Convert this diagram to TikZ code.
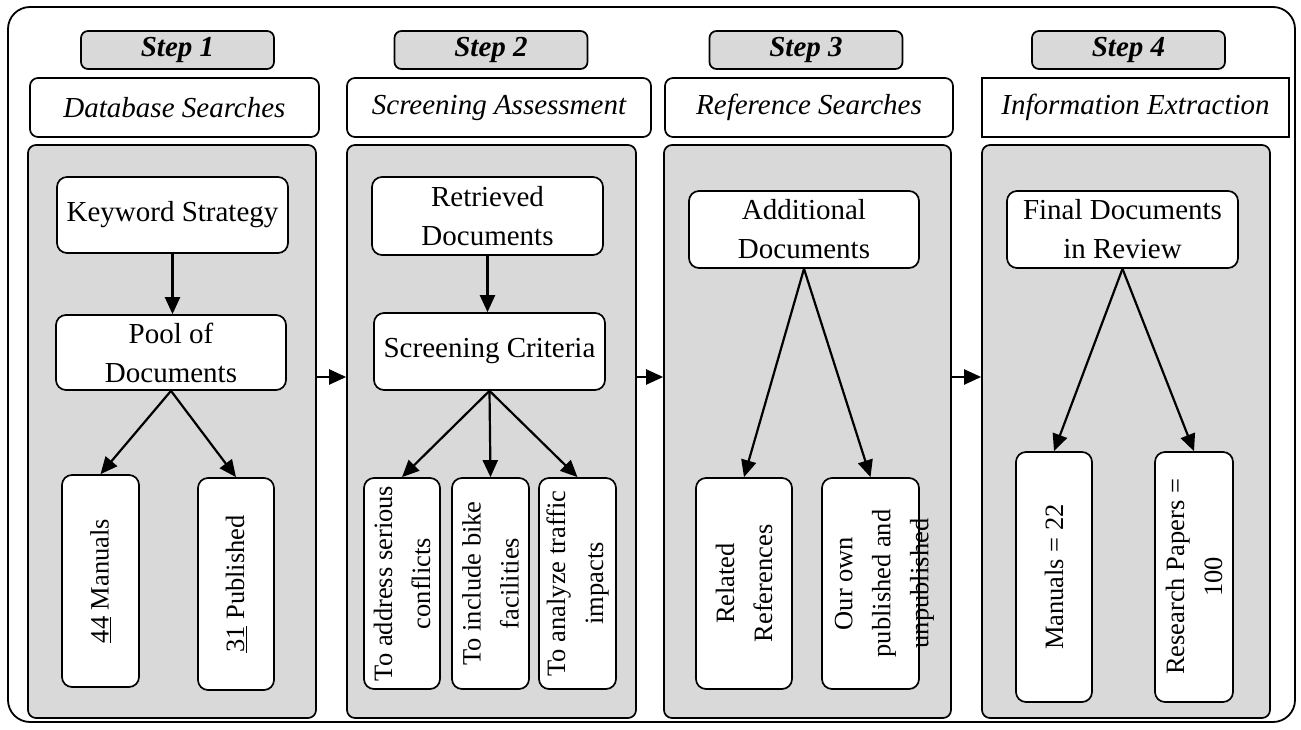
\documentclass[tikz,border=0pt]{standalone}
\usepackage{fontspec}
\setmainfont{Liberation Serif}
\usetikzlibrary{arrows.meta}

\tikzset{
    stepbox/.style={draw, line width=1.7pt, fill=black!15, rounded corners=7pt, minimum width=193pt, minimum height=38pt, inner sep=0pt, font=\fontsize{29}{35}\selectfont\bfseries\itshape},
    hdrbox/.style={draw, line width=1.7pt, fill=white, rounded corners=8pt, minimum height=59pt, inner sep=0pt, font=\fontsize{29}{39}\selectfont\itshape},
    panel/.style={draw, line width=1.7pt, fill=black!15, rounded corners=8pt, minimum height=573pt, inner sep=0pt},
    ibox/.style={draw, line width=1.7pt, fill=white, rounded corners=10pt, inner sep=0pt, align=center, font=\fontsize{29}{39}\selectfont},
    vtext/.style={rotate=90, align=center, inner sep=0pt, font=\fontsize{26.5}{38}\selectfont},
    arr/.style={line width=2.2pt, -{Triangle[length=17pt,width=15pt]}}
}

\begin{document}
\begin{tikzpicture}[x=1pt,y=-1pt]
    \useasboundingbox (0,0) rectangle (1301,730);

    % Marco exterior
    \draw[line width=1.8pt, rounded corners=22pt] (8,7) rectangle (1295,722);

    % Pasos
    \node[stepbox] (s1) at (177.5,50) {Step 1};
    \node[stepbox] (s2) at (491,50) {Step 2};
    \node[stepbox] (s3) at (806,50) {Step 3};
    \node[stepbox] (s4) at (1128.5,50) {Step 4};

    % Titulos de cada paso
    \node[hdrbox, minimum width=289pt] (h1) at (174.5,107.5) {Database Searches};
    \node[hdrbox, minimum width=304pt] (h2) at (499,107.5) {Screening Assessment};
    \node[hdrbox, minimum width=288pt] (h3) at (809,107.5) {Reference Searches};
    \node[hdrbox, minimum width=307pt, sharp corners] (h4) at (1135.5,107.5) {Information Extraction};

    % Paneles grises
    \node[panel, minimum width=288pt] (p1) at (172,431.5) {};
    \node[panel, minimum width=289pt] (p2) at (491.5,431.5) {};
    \node[panel, minimum width=287pt] (p3) at (807.5,431.5) {};
    \node[panel, minimum width=288pt] (p4) at (1126,431.5) {};

    % Flechas entre paneles
    \draw[arr] ([yshift=54.5pt]p1.east) -- ([yshift=54.5pt]p2.west);
    \draw[arr] ([yshift=54.5pt]p2.east) -- ([yshift=54.5pt]p3.west);
    \draw[arr] ([yshift=54.5pt]p3.east) -- ([yshift=54.5pt]p4.west);

    % Paso 1
    \node[ibox, minimum width=231pt, minimum height=76pt] (kw) at (172.5,215) {Keyword Strategy};
    \node[ibox, minimum width=230pt, minimum height=75pt] (pool) at (171,352.5) {Pool of\\Documents};
    \node[ibox, minimum width=77pt, minimum height=212pt] (m44) at (100.5,581) {};
    \node[ibox, minimum width=76pt, minimum height=212pt] (p31) at (236,584) {};
    \node[vtext] (t44) at (m44) {\underline{44} Manuals};
    \node[vtext] (t31) at (p31) {\underline{31} Published};
    \draw[arr] (kw.south) -- (kw.south |- pool.north);
    \draw[arr] (pool.south) -- (m44.north);
    \draw[arr] (pool.south) -- (p31.north);

    % Paso 2
    \node[ibox, minimum width=231pt, minimum height=78pt] (ret) at (487.5,216) {Retrieved\\Documents};
    \node[ibox, minimum width=231pt, minimum height=77pt] (crit) at (489.5,351.5) {Screening Criteria};
    \node[ibox, minimum width=76pt, minimum height=211pt] (c1) at (402,583.5) {};
    \node[ibox, minimum width=77pt, minimum height=211pt] (c2) at (490.5,583.5) {};
    \node[ibox, minimum width=77pt, minimum height=211pt] (c3) at (577.5,583.5) {};
    \node[vtext] (tc1) at (c1) {To address serious\\conflicts};
    \node[vtext] (tc2) at (c2) {To include bike\\facilities};
    \node[vtext] (tc3) at (c3) {To analyze traffic\\impacts};
    \draw[arr] (ret.south) -- (ret.south |- crit.north);
    \draw[arr] (crit.south) -- (c1.north);
    \draw[arr] (crit.south) -- (c2.north);
    \draw[arr] (crit.south) -- (c3.north);

    % Paso 3
    \node[ibox, minimum width=230pt, minimum height=77pt] (add) at (804,229.5) {Additional\\Documents};
    \node[ibox, minimum width=96pt, minimum height=211pt] (rel) at (744,583.5) {};
    \node[ibox, minimum width=97pt, minimum height=211pt] (own) at (870.5,583.5) {};
    \node[vtext] (trel) at (rel) {Related\\References};
    \node[vtext] (town) at ([xshift=14pt]own.center) {Our own\\published and\\unpublished};
    \draw[arr] (add.south) -- (rel.north);
    \draw[arr] (add.south) -- (own.north);

    % Paso 4
    \node[ibox, minimum width=231pt, minimum height=77pt] (fin) at (1122.5,229.5) {Final Documents\\in Review};
    \node[ibox, minimum width=76pt, minimum height=250pt] (m22) at (1054,577) {};
    \node[ibox, minimum width=78pt, minimum height=250pt] (rp) at (1194,577) {};
    \node[vtext] (tm22) at (m22) {Manuals = 22};
    \node[vtext] (trp) at (rp) {Research Papers =\\100};
    \draw[arr] (fin.south) -- (m22.north);
    \draw[arr] (fin.south) -- (rp.north);

\end{tikzpicture}
\end{document}
